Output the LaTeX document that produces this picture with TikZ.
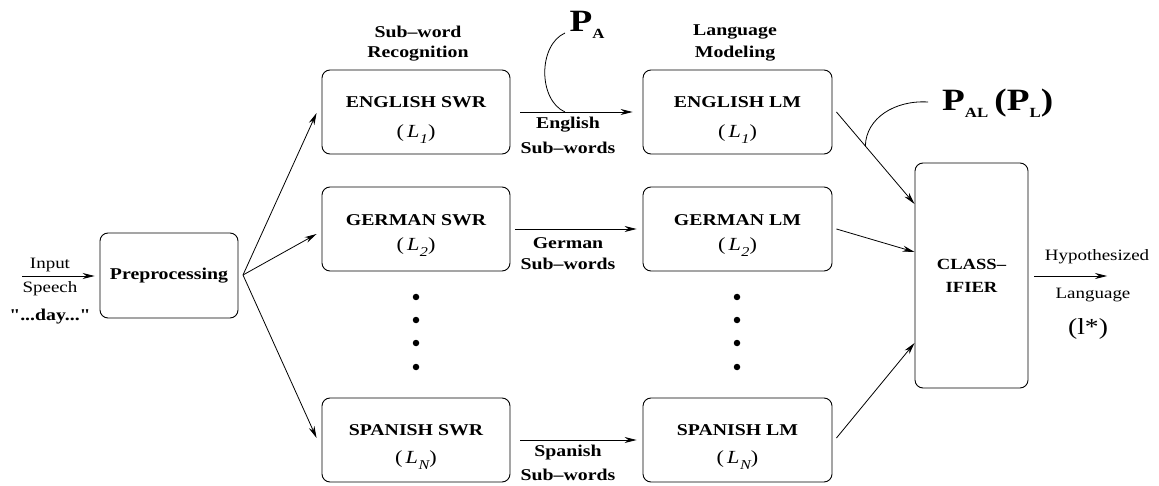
\documentclass[tikz,border=0pt]{standalone}
\usepackage{fontspec}
\setmainfont{Liberation Serif}[FakeStretch=1.2]
\newfontfamily\plainquotes{Liberation Serif}[FakeStretch=1.2,Ligatures=TeXOff]
\usetikzlibrary{calc,arrows.meta}
\newcommand{\langsub}[1]{(\,\textit{L\kern0.5pt\raisebox{-0.3em}{\fontsize{13.5}{13.5}\selectfont #1}})}
\newcommand{\scoresub}[1]{\raisebox{-0.22em}{\fontsize{14}{14}\selectfont #1}}
\begin{document}
\begin{tikzpicture}[x=1pt,y=-1pt,
  box/.style={draw,rounded corners=8pt,line width=0.9pt,inner sep=0pt},
  lbl/.style={font=\fontsize{16.5}{16.5}\selectfont\bfseries,inner sep=0pt},
  txt/.style={font=\fontsize{15.8}{15.8}\selectfont,inner sep=0pt},
  lang/.style={font=\fontsize{18.5}{18.5}\selectfont,inner sep=0pt},
  score/.style={font=\fontsize{31}{31}\selectfont\bfseries,inner sep=0pt},
  arr/.style={-{Stealth[length=12pt,width=6pt]},line width=0.8pt},
  curve/.style={line width=0.8pt},
  dot/.style={circle,fill,inner sep=0pt,minimum size=6.5pt}]
\useasboundingbox (0,0) rectangle (1159,486);

% processing blocks
\node[box,minimum width=138,minimum height=85] (pre) at (169,275.5) {};
\node[box,minimum width=188,minimum height=84] (eswr) at (416,112) {};
\node[box,minimum width=188,minimum height=84] (gswr) at (416,229) {};
\node[box,minimum width=188,minimum height=84] (sswr) at (416,440) {};
\node[box,minimum width=189,minimum height=84] (elm) at (737.5,112) {};
\node[box,minimum width=189,minimum height=84] (glm) at (737.5,229) {};
\node[box,minimum width=189,minimum height=84] (slm) at (737.5,440) {};
\node[box,minimum width=113,minimum height=225] (cls) at (971.5,275.5) {};

% block texts
\node[lbl] (pret) at (pre.center) {Preprocessing};
\node[lbl] (eswrt) at ($(eswr.center)+(0,-10)$) {ENGLISH SWR};
\node[lang] (eswrl) at ($(eswr.center)+(0,22)$) {\langsub{1}};
\node[lbl] (gswrt) at ($(gswr.center)+(0,-9)$) {GERMAN SWR};
\node[lang] (gswrl) at ($(gswr.center)+(0,18)$) {\langsub{2}};
\node[lbl] (sswrt) at ($(sswr.center)+(0,-10)$) {SPANISH SWR};
\node[lang] (sswrl) at ($(sswr.center)+(0,20)$) {\langsub{N}};
\node[lbl] (elmt) at ($(elm.center)+(0,-10)$) {ENGLISH LM};
\node[lang] (elml) at ($(elm.center)+(0,22)$) {\langsub{1}};
\node[lbl] (glmt) at ($(glm.center)+(0,-9)$) {GERMAN LM};
\node[lang] (glml) at ($(glm.center)+(0,18)$) {\langsub{2}};
\node[lbl] (slmt) at ($(slm.center)+(0,-10)$) {SPANISH LM};
\node[lang] (slml) at ($(slm.center)+(0,20)$) {\langsub{N}};
\node[lbl,align=center,font=\fontsize{15.5}{23}\selectfont\bfseries] (clst) at (cls.center) {CLASS\textendash\\IFIER};

% column headings
\node[lbl] (h1a) at (418,32) {Sub\textendash word};
\node[lbl] (h1b) at (418,54) {Recognition};
\node[lbl] (h2a) at (735,32) {Language};
\node[lbl] (h2b) at (735,54) {Modeling};

% speech input
\coordinate (in) at (22,276);
\draw[arr,shorten >=5pt] (in) -- (pre.west |- in);
\node[txt] (inp1) at (50,265) {Input};
\node[txt] (inp2) at (50,289) {Speech};
\node[lbl,font=\plainquotes\fontsize{16.5}{16.5}\selectfont\bfseries] (inp3) at (50,317) {"...day..."};

% fan-out to recognisers
\coordinate (fan) at (243,275);
\draw[arr] (fan) -- ($(eswr.west)+(-5,1)$);
\draw[arr] (fan) -- ($(gswr.west)+(-5,5)$);
\draw[arr] (fan) -- ($(sswr.west)+(-5,-2)$);

% sub-word streams
\draw[arr,shorten <=10pt,shorten >=10pt] (eswr.east) -- (elm.west);
\draw[arr,shorten <=5pt,shorten >=6pt] (gswr.east) -- (glm.west);
\draw[arr,shorten <=10pt,shorten >=6pt] (sswr.east) -- (slm.west);
\node[lbl] (es1) at (568,125) {English};
\node[lbl] (es2) at (568,148) {Sub\textendash words};
\node[lbl] (gs1) at (568,243) {German};
\node[lbl] (gs2) at (568,264) {Sub\textendash words};
\node[lbl] (ss1) at (568,453) {Spanish};
\node[lbl] (ss2) at (568,475) {Sub\textendash words};

% acoustic score
\node[score] (pa) at (587,25) {P\scoresub{A}};
\coordinate (pas) at (565,33);
\coordinate (pae) at (565,112);
\draw[curve] (pas) .. controls (538,45) and (538,100) .. (pae);

% language-model scores to classifier
\coordinate (e0) at ($(elm.east)+(4,0)$);
\coordinate (e1) at ($(cls.west)+(0,-71.5)$);
\coordinate (g0) at ($(glm.east)+(4,0)$);
\coordinate (g1) at ($(cls.west)+(0,-23.5)$);
\coordinate (s0) at ($(slm.east)+(4,-2)$);
\coordinate (s1) at ($(cls.west)+(0,67.5)$);
\draw[arr] (e0) -- (e1);
\draw[arr] (g0) -- (g1);
\draw[arr] (s0) -- (s1);

% combined score
\node[score,anchor=west] (pal) at (942,103)
  {P\scoresub{AL}\hspace{0.2em}(P\scoresub{L})};
\coordinate (pls) at (928,102);
\coordinate (ple) at ($(e0)!0.37!(e1)$);
\draw[curve] (pls) .. controls (895,100) and (866,118) .. (ple);

% omitted languages
\foreach \i/\y in {1/297,2/320,3/343,4/367}{
  \node[dot] (da\i) at (416,\y) {};
  \node[dot] (db\i) at (737,\y) {};
}

% decision output
\coordinate (out0) at ($(cls.east)+(6,0.5)$);
\coordinate (out1) at (1107,276);
\draw[arr] (out0) -- (out1);
\node[txt] (o1) at (1097,257) {Hypothesized};
\node[txt] (o2) at (1093,295) {Language};
\node[inner sep=0pt,font=\fontsize{23}{23}\selectfont] (o3) at (1088,329) {(l*)};
\end{tikzpicture}
\end{document}
